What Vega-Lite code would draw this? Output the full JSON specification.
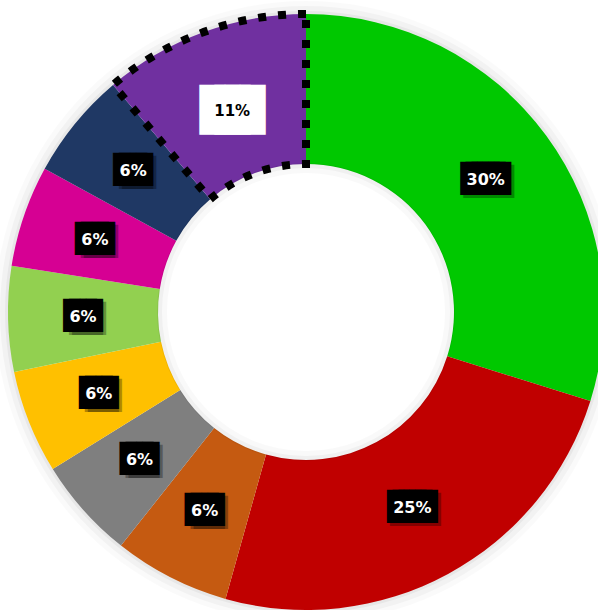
{
  "$schema": "https://vega.github.io/schema/vega-lite/v6.json",
  "width": 612,
  "height": 624,
  "padding": 0,
  "autosize": {"type": "none"},
  "background": "white",
  "config": {"view": {"stroke": null}},
  "data": {
    "values": [
      {"cat": "Green", "rank": 1, "value": 29.8, "label": "30%"},
      {"cat": "Red", "rank": 2, "value": 24.5, "label": "25%"},
      {"cat": "Orange", "rank": 3, "value": 6.3, "label": "6%"},
      {"cat": "Gray", "rank": 4, "value": 5.5, "label": "6%"},
      {"cat": "Yellow", "rank": 5, "value": 5.6, "label": "6%"},
      {"cat": "LightGreen", "rank": 6, "value": 5.7, "label": "6%"},
      {"cat": "Magenta", "rank": 7, "value": 5.5, "label": "6%"},
      {"cat": "Navy", "rank": 8, "value": 5.8, "label": "6%"},
      {"cat": "Purple", "rank": 9, "value": 11.2, "label": "11%"}
    ]
  },
  "encoding": {
    "theta": {"field": "value", "type": "quantitative", "stack": true},
    "order": {"field": "rank", "type": "quantitative"}
  },
  "layer": [
    {
      "data": {"values": [{"value": 99.9}]},
      "mark": {"type": "arc", "innerRadius": 296, "outerRadius": 311, "color": "#000", "opacity": 0.02}
    },
    {
      "data": {"values": [{"value": 99.9}]},
      "mark": {"type": "arc", "innerRadius": 296, "outerRadius": 306, "color": "#000", "opacity": 0.03}
    },
    {
      "data": {"values": [{"value": 99.9}]},
      "mark": {"type": "arc", "innerRadius": 296, "outerRadius": 301, "color": "#000", "opacity": 0.045}
    },
    {
      "mark": {"type": "arc", "innerRadius": 148, "outerRadius": 298, "strokeDash": [8, 12], "strokeJoin": "miter"},
      "encoding": {
        "color": {
          "field": "cat",
          "type": "nominal",
          "scale": {
            "domain": ["Green", "Red", "Orange", "Gray", "Yellow", "LightGreen", "Magenta", "Navy", "Purple"],
            "range": ["#00C800", "#C00000", "#C55A11", "#7F7F7F", "#FFC000", "#92D050", "#D60093", "#1F3864", "#7030A0"]
          },
          "legend": null
        },
        "stroke": {"condition": {"test": "datum.cat === 'Purple'", "value": "#000000"}, "value": "transparent"},
        "strokeWidth": {"condition": {"test": "datum.cat === 'Purple'", "value": 8}, "value": 0}
      }
    },
    {
      "data": {"values": [{"value": 99.9}]},
      "mark": {"type": "arc", "innerRadius": 139, "outerRadius": 149, "color": "#000", "opacity": 0.025}
    },
    {
      "data": {"values": [{"value": 99.9}]},
      "mark": {"type": "arc", "innerRadius": 144, "outerRadius": 149, "color": "#000", "opacity": 0.035}
    },
    {
      "mark": {"type": "text", "font": "DejaVu Sans Mono", "fontSize": 28, "align": "center", "baseline": "middle", "dx": 3, "dy": 3, "color": "#000"},
      "encoding": {
        "radius": {"value": 223},
        "text": {"condition": {"test": "length(datum.label) == 3", "value": "███"}, "value": "██"},
        "opacity": {"condition": {"test": "datum.cat === 'Purple'", "value": 0}, "value": 0.3}
      }
    },
    {
      "mark": {"type": "text", "font": "DejaVu Sans Mono", "fontSize": 28, "align": "center", "baseline": "middle", "dx": 6, "dy": 3, "color": "#000"},
      "encoding": {
        "radius": {"value": 223},
        "text": {"value": "██"},
        "opacity": {"condition": {"test": "length(datum.label) == 2", "value": 0.3}, "value": 0}
      }
    },
    {
      "mark": {"type": "text", "font": "DejaVu Sans Mono", "fontSize": 28, "align": "center", "baseline": "middle", "dx": -3, "color": "#000"},
      "encoding": {
        "radius": {"value": 223},
        "text": {"value": "██"},
        "opacity": {"condition": {"test": "datum.cat === 'Purple'", "value": 0}, "value": 1}
      }
    },
    {
      "mark": {"type": "text", "font": "DejaVu Sans Mono", "fontSize": 28, "align": "center", "baseline": "middle", "dx": 3, "color": "#000"},
      "encoding": {
        "radius": {"value": 223},
        "text": {"value": "██"},
        "opacity": {"condition": {"test": "datum.cat === 'Purple'", "value": 0}, "value": 1}
      }
    },
    {
      "mark": {"type": "text", "font": "DejaVu Sans Mono", "fontSize": 28, "align": "center", "baseline": "middle", "color": "#000"},
      "encoding": {
        "radius": {"value": 223},
        "text": {"value": "███"},
        "opacity": {"condition": {"test": "length(datum.label) == 3 && datum.cat !== 'Purple'", "value": 1}, "value": 0}
      }
    },
    {
      "mark": {"type": "text", "font": "DejaVu Sans Mono", "fontSize": 42, "align": "center", "baseline": "middle", "dx": -7.5, "color": "#FFFFFF"},
      "encoding": {
        "radius": {"value": 214},
        "text": {"value": "██"},
        "opacity": {"condition": {"test": "datum.cat === 'Purple'", "value": 1}, "value": 0}
      }
    },
    {
      "mark": {"type": "text", "font": "DejaVu Sans Mono", "fontSize": 42, "align": "center", "baseline": "middle", "dx": 7.5, "color": "#FFFFFF"},
      "encoding": {
        "radius": {"value": 214},
        "text": {"value": "██"},
        "opacity": {"condition": {"test": "datum.cat === 'Purple'", "value": 1}, "value": 0}
      }
    },
    {
      "mark": {"type": "text", "font": "DejaVu Sans", "fontWeight": "bold", "fontSize": 16, "align": "center", "baseline": "middle", "color": "#FFFFFF"},
      "encoding": {
        "radius": {"value": 223},
        "text": {"field": "label"},
        "opacity": {"condition": {"test": "datum.cat === 'Purple'", "value": 0}, "value": 1}
      }
    },
    {
      "mark": {"type": "text", "font": "DejaVu Sans", "fontWeight": "bold", "fontSize": 15, "align": "center", "baseline": "middle", "color": "#000000"},
      "encoding": {
        "radius": {"value": 214},
        "text": {"field": "label"},
        "opacity": {"condition": {"test": "datum.cat === 'Purple'", "value": 1}, "value": 0}
      }
    }
  ]
}
